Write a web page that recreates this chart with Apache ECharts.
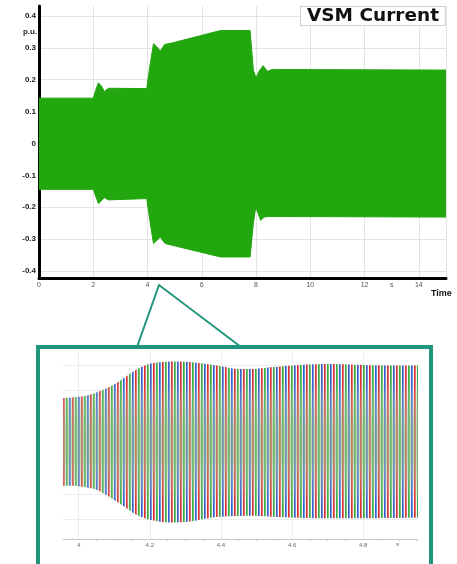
<!DOCTYPE html>
<html>
<head>
<meta charset="utf-8">
<script src="https://cdn.jsdelivr.net/npm/echarts@6/dist/echarts.min.js"></script>
<style>html,body{margin:0;padding:0;background:#fff;}#c{width:457px;height:564px;}</style>
</head>
<body>
<div id="c"></div>
<script>
// ---- Data ----
// Main panel: envelope of the VSM current (p.u.) vs time (s)
const mainUpperT = [0, 2.0, 2.1, 2.19, 2.3, 2.41, 2.56, 3.97, 4.1, 4.22, 4.32, 4.47, 4.63, 4.9, 6.69, 7.78, 7.9, 8.0, 8.1, 8.26, 8.42, 8.6, 15];
const mainUpperV = [0.142, 0.142, 0.17, 0.19, 0.18, 0.163, 0.173, 0.172, 0.25, 0.313, 0.305, 0.29, 0.31, 0.315, 0.354, 0.354, 0.23, 0.205, 0.225, 0.244, 0.226, 0.232, 0.23];
const mainLowerT = [0, 2.0, 2.19, 2.41, 2.56, 3.97, 4.1, 4.22, 4.47, 4.65, 6.69, 7.78, 7.9, 7.99, 8.17, 8.3, 8.48, 15];
const mainLowerV = [-0.144, -0.144, -0.189, -0.17, -0.177, -0.173, -0.25, -0.314, -0.294, -0.314, -0.356, -0.356, -0.25, -0.2, -0.241, -0.231, -0.229, -0.231];
// Inset (zoom 4 - 5 s): envelope of the three phase currents
const zoomUpperT = [3.956, 4.012, 4.05, 4.106, 4.162, 4.2, 4.256, 4.313, 4.388, 4.454, 4.491, 4.538, 4.622, 4.707, 4.82, 4.954];
const zoomUpperV = [0.171, 0.178, 0.193, 0.229, 0.281, 0.304, 0.313, 0.311, 0.298, 0.284, 0.284, 0.291, 0.300, 0.303, 0.299, 0.298];
const zoomLowerT = [3.956, 4.003, 4.05, 4.106, 4.162, 4.2, 4.256, 4.313, 4.388, 4.491, 4.557, 4.632, 4.773, 4.954];
const zoomLowerV = [-0.169, -0.171, -0.184, -0.229, -0.281, -0.300, -0.311, -0.307, -0.29, -0.285, -0.29, -0.294, -0.295, -0.293];
// Tick labels
const mainXTicks = [0, 2, 4, 6, 8, 10, 12, 14];
const mainXUnit = 's';
const mainYUnit = 'p.u.';
const zoomXTicks = [4, 4.2, 4.4, 4.6, 4.8];
const zoomXUnit = 's';
const titleText = 'VSM Current';
const xName = 'Time';

const pairs = (t, v) => t.map((x, i) => [x, v[i]]);

// ---- Stripe pattern for the three-phase waveforms in the inset ----
function makePattern() {
  const W = 9, H = 564;
  const cv = document.createElement('canvas');
  cv.width = W; cv.height = H;
  const ctx = cv.getContext('2d');
  const img = ctx.createImageData(W, H);
  const cols = [
    [214, 50, 50, 1], [214, 50, 50, 0.7], null,
    [56, 170, 62, 1], [56, 170, 62, 0.7], null,
    [56, 96, 205, 1], [56, 96, 205, 0.7], null
  ];
  const pale = [170, 198, 160];
  const paleGap = [192, 218, 182];
  for (let y = 0; y < H; y++) {
    const d = Math.abs(y - 442.5);
    const s = Math.max(0, Math.min(1, (d - 16) / 46));
    for (let x = 0; x < W; x++) {
      const c = cols[x];
      let r, g, b;
      if (c) {
        const k = (0.5 + 0.5 * s) * c[3];
        const base = [pale[0] * (1 - s) + 255 * s, pale[1] * (1 - s) + 255 * s, pale[2] * (1 - s) + 255 * s];
        r = base[0] * (1 - k) + c[0] * k; g = base[1] * (1 - k) + c[1] * k; b = base[2] * (1 - k) + c[2] * k;
      } else {
        r = paleGap[0] * (1 - s) + 246 * s; g = paleGap[1] * (1 - s) + 246 * s; b = paleGap[2] * (1 - s) + 246 * s;
      }
      const idx = (y * W + x) * 4;
      img.data[idx] = r; img.data[idx + 1] = g; img.data[idx + 2] = b; img.data[idx + 3] = 255;
    }
  }
  ctx.putImageData(img, 0, 0);
  return cv;
}
const stripe = { image: makePattern(), repeat: 'repeat' };

const GREEN = '#22a70f';
const TEAL = '#20967c';
const FONT = 'Liberation Sans, Arial, sans-serif';

const chart = echarts.init(document.getElementById('c'), null, { renderer: 'canvas' });
const option = {
  animation: false,
  backgroundColor: '#fff',
  title: {
    text: titleText, right: 11, top: 6, padding: [1, 7, 0, 7],
    borderColor: '#cfcfcf', borderWidth: 1, backgroundColor: '#fff',
    textStyle: { fontFamily: 'DejaVu Sans, sans-serif', fontSize: 18.5, lineHeight: 19, fontWeight: 'bold', color: '#111' }
  },
  grid: [
    { left: 39, right: 11, top: 6, bottom: 286, outerBoundsMode: 'none' },
    { left: 63, right: 39, top: 352, bottom: 25, outerBoundsMode: 'none' }
  ],
  xAxis: [
    {
      gridIndex: 0, type: 'value', min: 0, max: 15, interval: 1,
      name: '\n' + xName, nameLocation: 'end', nameGap: -15,
      nameTextStyle: { fontFamily: FONT, fontSize: 9, lineHeight: 32, fontWeight: 'bold', color: '#111' },
      axisLine: { show: true, onZero: false, lineStyle: { color: '#000', width: 3 } },
      axisTick: { show: false },
      splitLine: { show: false },
      axisLabel: {
        margin: 4, fontFamily: FONT, fontSize: 7, color: '#555',
        formatter: v => mainXTicks.includes(v) ? String(v) : (v === 13 ? mainXUnit : '')
      }
    },
    {
      gridIndex: 0, type: 'value', min: 0, max: 15, interval: 2, position: 'bottom',
      axisLine: { show: false }, axisTick: { show: false }, axisLabel: { show: false },
      splitLine: { show: true, lineStyle: { color: '#e4e4e4', width: 1 } }
    },
    {
      gridIndex: 1, type: 'value', min: 3.956, max: 4.954, splitNumber: 5,
      name: '\n' + zoomXUnit, nameLocation: 'end', nameGap: -22,
      nameTextStyle: { fontFamily: FONT, fontSize: 6, lineHeight: 10, color: '#666' },
      axisLine: { show: true, onZero: false, lineStyle: { color: '#c8c8c8', width: 1 } },
      axisTick: { show: false },
      minorTick: { show: true, splitNumber: 4, length: 2, lineStyle: { color: '#ccc' } },
      axisLabel: {
        margin: 3, fontFamily: FONT, fontSize: 6, color: '#666', showMinLabel: false, showMaxLabel: false,
        formatter: v => zoomXTicks.some(t => Math.abs(t - v) < 1e-6) ? String(+v.toFixed(1)) : ''
      },
      splitLine: { show: true, showMinLine: false, showMaxLine: false, lineStyle: { color: '#ececec' } }
    }
  ],
  yAxis: [
    {
      gridIndex: 0, type: 'value', min: -0.422, max: 0.431, splitNumber: 8,
      name: mainYUnit, nameLocation: 'end', nameGap: -30,
      nameTextStyle: { fontFamily: FONT, fontSize: 8, fontWeight: 'bold', color: '#222', padding: [0, 18, 0, 0] },
      axisLine: { show: true, onZero: false, lineStyle: { color: '#000', width: 3 } },
      axisTick: { show: false },
      axisLabel: {
        margin: 3, fontFamily: FONT, fontSize: 8, fontWeight: 'bold', color: '#222',
        showMinLabel: false, showMaxLabel: false,
        formatter: v => (Math.abs(v) < 1e-9 ? '0' : (+v.toFixed(2)).toString())
      },
      splitLine: { show: true, showMinLine: false, showMaxLine: false, lineStyle: { color: '#e4e4e4' } }
    },
    {
      gridIndex: 1, type: 'value', min: -0.375, max: 0.35, splitNumber: 7,
      axisLine: { show: false }, axisTick: { show: false }, axisLabel: { show: false },
      splitLine: { show: true, showMinLine: false, showMaxLine: false, lineStyle: { color: '#ececec' } }
    }
  ],
  series: [
    {
      type: 'line', xAxisIndex: 0, yAxisIndex: 0, data: pairs(mainUpperT, mainUpperV),
      showSymbol: false, lineStyle: { color: GREEN, width: 1 }, areaStyle: { color: GREEN, opacity: 1, origin: -0.05 }
    },
    {
      type: 'line', xAxisIndex: 0, yAxisIndex: 0, data: pairs(mainLowerT, mainLowerV),
      showSymbol: false, lineStyle: { color: GREEN, width: 1 }, areaStyle: { color: GREEN, opacity: 1, origin: 0.05 }
    },
    {
      type: 'line', xAxisIndex: 2, yAxisIndex: 1, data: pairs(zoomUpperT, zoomUpperV), smooth: 0.3,
      showSymbol: false, lineStyle: { width: 0 }, areaStyle: { color: stripe, opacity: 1, origin: -0.05 }
    },
    {
      type: 'line', xAxisIndex: 2, yAxisIndex: 1, data: pairs(zoomLowerT, zoomLowerV), smooth: 0.3,
      showSymbol: false, lineStyle: { width: 0 }, areaStyle: { color: stripe, opacity: 1, origin: 0.05 }
    }
  ],
  graphic: [
    { type: 'rect', shape: { x: 38, y: 347, width: 393, height: 230 }, style: { fill: 'none', stroke: TEAL, lineWidth: 4 }, z: 100 },
    { type: 'polyline', shape: { points: [[137, 347], [159, 285], [241, 347]] }, style: { fill: 'none', stroke: TEAL, lineWidth: 2 }, z: 100 }
  ]
};
chart.setOption(option);
</script>
</body>
</html>
